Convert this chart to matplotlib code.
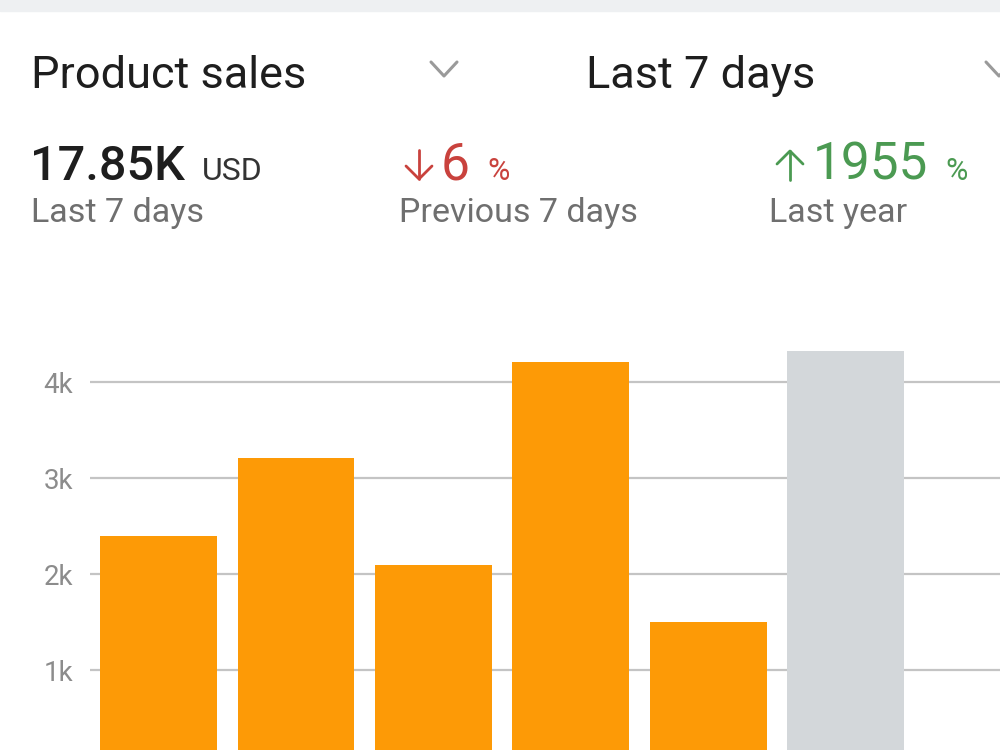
import matplotlib
matplotlib.use("Agg")
import matplotlib.pyplot as plt

# daily sales, thousands of USD (last bar = current day, shown in gray)
days = [0, 1, 2, 3, 4, 5]
sales_k = [2.40, 3.21, 2.09, 4.21, 1.50, 4.33]
bar_colors = ["#fd9a06", "#fd9a06", "#fd9a06", "#fd9a06", "#fd9a06", "#d3d7da"]
y_ticks = [1, 2, 3, 4]
y_labels = ["1k", "2k", "3k", "4k"]

title = "Product sales"
period = "Last 7 days"
total = "17.85K"
currency = "USD"
prev_change = "6"
year_change = "1955"

plt.rcParams["font.family"] = ["Roboto", "DejaVu Sans"]

W, H = 1000, 750
fig = plt.figure(figsize=(10, 7.5), dpi=100)
fig.patch.set_facecolor("white")


def px(x, y):
    return x / W, 1 - y / H


def fig_line(xs, ys, color, lw):
    fig.lines.append(plt.Line2D([x / W for x in xs], [1 - y / H for y in ys],
                                transform=fig.transFigure, color=color, lw=lw,
                                solid_capstyle="round", solid_joinstyle="round"))


# top strip of the app screen
fig.patches.append(plt.Rectangle((0, 1 - 11 / H), 1, 11 / H, transform=fig.transFigure,
                                 color="#eef0f2", zorder=0))

dark = "#1e1e1e"
grey = "#6f6f6f"
red = "#c9423d"
green = "#4b9a52"

fig.text(*px(31, 88), title, fontsize=32.5, color=dark, va="baseline")
fig.text(*px(586, 88), period, fontsize=32.5, color=dark, va="baseline")

# dropdown chevrons
for cx in (444, 999):
    fig_line([cx - 13, cx, cx + 13], [62, 76, 62], "#9a9a9a", 2.2)

# headline figures
fig.text(*px(30, 180), total, fontsize=35, color=dark, va="baseline", weight="medium")
fig.text(*px(202, 180), currency, fontsize=23, color="#333333", va="baseline")
fig.text(*px(31, 222), period, fontsize=24.5, color=grey, va="baseline")

# down arrow (previous 7 days)
fig_line([419, 419], [150, 179], red, 2.0)
fig_line([406, 419, 432], [166, 179, 166], red, 2.0)
fig.text(*px(441, 180), prev_change, fontsize=37, color=red, va="baseline")
fig.text(*px(487, 180), "%", fontsize=22, color=red, va="baseline")
fig.text(*px(399, 222), "Previous 7 days", fontsize=24.5, color=grey, va="baseline")

# up arrow (last year)
fig_line([790, 790], [151, 180], green, 2.0)
fig_line([777, 790, 803], [164, 151, 164], green, 2.0)
fig.text(*px(813, 180), year_change, fontsize=37, color=green, va="baseline")
fig.text(*px(945, 180), "%", fontsize=22, color=green, va="baseline")
fig.text(*px(769, 222), "Last year", fontsize=24.5, color=grey, va="baseline")

# bar chart, cropped at the bottom of the screenshot
ax = fig.add_axes([90 / W, 0, 1 - 90 / W, (750 - 340) / H])
ax.bar(days, sales_k, width=0.85, color=bar_colors, zorder=3)
ax.set_xlim(-0.5, 6.124)
ax.set_ylim(0.167, 4.44)
ax.set_yticks(y_ticks)
ax.set_yticklabels(y_labels)
ax.tick_params(axis="y", length=0, pad=12, labelsize=20, labelcolor="#8c8c8c")
ax.tick_params(axis="x", length=0, labelbottom=False)
ax.grid(axis="y", color="#c4c4c4", lw=1.6, zorder=0)
for s in ax.spines.values():
    s.set_visible(False)
ax.set_facecolor("none")

fig.savefig("out.png", dpi=100)
